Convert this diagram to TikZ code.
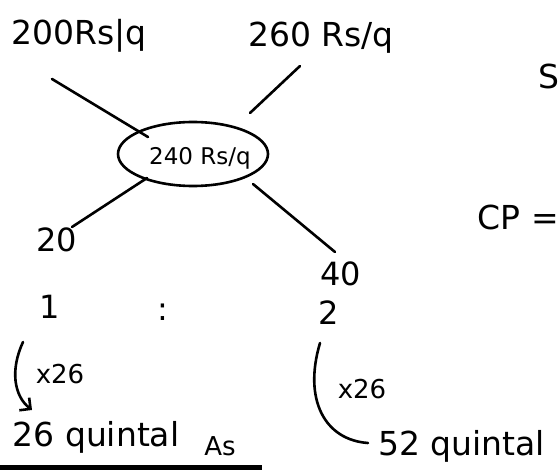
\documentclass[tikz,border=0pt]{standalone}
\usepackage{fontspec}
\setmainfont{DejaVu Sans}
\usetikzlibrary{arrows.meta,shapes.geometric}
\begin{document}
\begin{tikzpicture}[x=1pt,y=-1pt,
  ink/.style={line width=2.6pt,line cap=round,black},
  hand/.style={inner sep=0pt,font=\fontsize{33}{38}\selectfont},
  big/.style={inner sep=0pt,font=\fontsize{32}{38}\selectfont},
  small/.style={inner sep=0pt,font=\fontsize{26}{30}\selectfont}]
\useasboundingbox (0,0) rectangle (560,470);
\clip (0,0) rectangle (560,470);
% top labels
\node[hand] (p1) at (79,36) {200Rs|q};
\node[hand] (p2) at (321,38) {260 Rs/q};
\node[ink,draw,ellipse,minimum width=150pt,minimum height=64pt,inner sep=0pt] (m) at (193,154) {};
\node[inner sep=0pt,font=\fontsize{23}{28}\selectfont] (mt) at (200,158) {240 Rs/q};
\coordinate (a1) at (52,79);
\coordinate (a2) at (148,137);
\draw[ink] (a1) -- (a2);
\coordinate (b1) at (300,66);
\coordinate (b2) at (250,113);
\draw[ink] (b1) -- (b2);
% lower
\node[big] (d1) at (57,240) {20};
\node[big] (d2) at (341,274) {40};
\coordinate (c1) at (147,178);
\coordinate (c2) at (72,227);
\draw[ink] (c1) -- (c2);
\coordinate (e1) at (253,184);
\coordinate (e2) at (335,252);
\draw[ink] (e1) -- (e2);
\node[big] (r1) at (50,307) {1};
\node[big] (rc) at (163,312) {:};
\node[big] (r2) at (329,313) {2};
% multipliers
\node[small] (x1) at (60,374) {x26};
\node[small] (x2) at (362,389) {x26};
\node[hand] (q1) at (96,437) {26 quintal};
\node[hand,anchor=west] (q2) at (378,446) {52 quintal};
\coordinate (l1) at (23,342);
\coordinate (l2) at (32,410);
\draw[ink,-{Straight Barb[length=8pt,width=16pt]}] (l1) .. controls (10,370) and (14,396) .. (l2);
\coordinate (k1) at (320,343);
\coordinate (k2) at (368,443);
\draw[ink] (k1) .. controls (303,400) and (325,440) .. (k2);
% answer
\node[inner sep=0pt,font=\fontsize{26}{30}\selectfont] (ans) at (220,446) {As};
\coordinate (u1) at (0,467);
\coordinate (u2) at (262,467);
\draw[line width=5pt,black] (u1) -- (u2);
% texts at right edge
\node[hand,anchor=east] (s) at (560,76) {S};
\node[hand,anchor=east] (cp) at (559,217) {CP =};
\end{tikzpicture}
\end{document}
